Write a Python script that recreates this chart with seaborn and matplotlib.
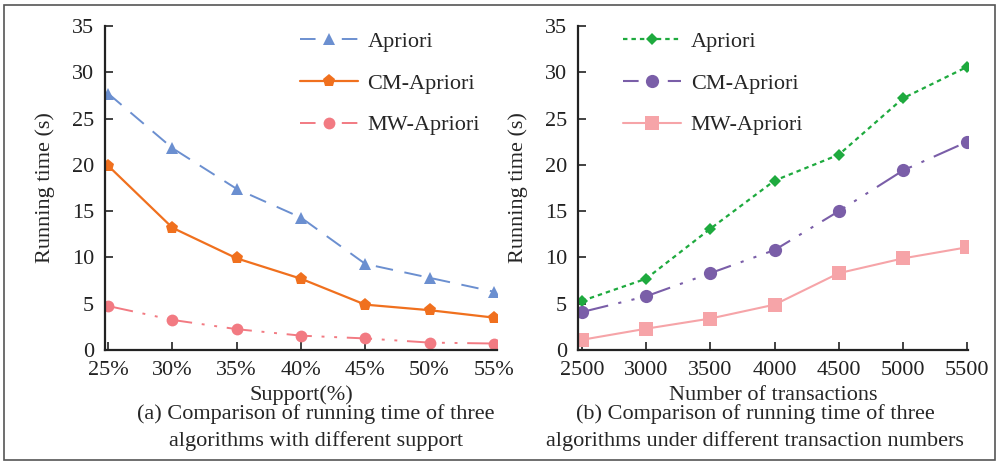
import numpy as np
import pandas as pd
import matplotlib
matplotlib.use('Agg')
import matplotlib.pyplot as plt
import seaborn as sns
from matplotlib.patches import Rectangle

# data (a): running time vs support
support_labels = ['25%', '30%', '35%', '40%', '45%', '50%', '55%']
apriori_a = [27.7, 21.8, 17.4, 14.3, 9.3, 7.8, 6.3]
cm_apriori_a = [19.9, 13.2, 9.9, 7.7, 4.9, 4.3, 3.5]
mw_apriori_a = [4.75, 3.25, 2.25, 1.55, 1.25, 0.8, 0.7]

# data (b): running time vs number of transactions
transactions = [2500, 3000, 3500, 4000, 4500, 5000, 5500]
apriori_b = [5.3, 7.7, 13.1, 18.3, 21.1, 27.2, 30.6]
cm_apriori_b = [4.1, 5.8, 8.3, 10.8, 15.0, 19.4, 22.5]
mw_apriori_b = [1.1, 2.3, 3.4, 4.9, 8.3, 9.9, 11.1]

sns.set_theme(style='ticks')
plt.rcParams['font.family'] = ['Liberation Serif', 'DejaVu Serif']
plt.rcParams['mathtext.fontset'] = 'stix'

W, H = 1001, 463
fig = plt.figure(figsize=(W / 100, H / 100), dpi=100)


def px_axes(x0, y0, x1, y1):
    return fig.add_axes([x0 / W, 1 - y1 / H, (x1 - x0) / W, (y1 - y0) / H])


ax1 = px_axes(105, 26, 497, 350)
ax2 = px_axes(578, 26, 968, 350)

df_a = pd.DataFrame({'pos': np.arange(len(support_labels)),
                     'Apriori': apriori_a, 'CM-Apriori': cm_apriori_a,
                     'MW-Apriori': mw_apriori_a})
df_b = pd.DataFrame({'n': transactions, 'Apriori': apriori_b,
                     'CM-Apriori': cm_apriori_b, 'MW-Apriori': mw_apriori_b})

dashdotdot = (13, 5, 1.5, 5, 1.5, 5)

# (a)
l = sns.lineplot(data=df_a, x='pos', y='Apriori', ax=ax1, color='#6b8fd0',
                 marker='^', markersize=8.5, markeredgewidth=0, lw=1.4,
                 label='Apriori').lines[-1]
l.set_dashes((9, 6))
sns.lineplot(data=df_a, x='pos', y='CM-Apriori', ax=ax1, color='#f0701e',
             marker='p', markersize=9.5, markeredgewidth=0, lw=1.6,
             label='CM-Apriori')
l = sns.lineplot(data=df_a, x='pos', y='MW-Apriori', ax=ax1, color='#f27a82',
                 marker='o', markersize=8.5, markeredgewidth=0, lw=1.4,
                 label='MW-Apriori').lines[-1]
l.set_dashes(dashdotdot)

# (b)
l = sns.lineplot(data=df_b, x='n', y='Apriori', ax=ax2, color='#1eaa3e',
                 marker='D', markersize=6.5, markeredgewidth=0, lw=1.6,
                 label='Apriori').lines[-1]
l.set_dashes((2, 1.8))
l = sns.lineplot(data=df_b, x='n', y='CM-Apriori', ax=ax2, color='#7a5ea8',
                 marker='o', markersize=9.5, markeredgewidth=0, lw=1.5,
                 label='CM-Apriori').lines[-1]
l.set_dashes(dashdotdot)
sns.lineplot(data=df_b, x='n', y='MW-Apriori', ax=ax2, color='#f6a4a8',
             marker='s', markersize=9.5, markeredgewidth=0, lw=1.5,
             label='MW-Apriori')

for ax in (ax1, ax2):
    ax.set_ylim(0, 35)
    ax.set_yticks(range(0, 36, 5))
    ax.tick_params(direction='in', length=6, width=1.2, labelsize=16,
                   colors='#222222')
    ax.tick_params(axis='y', pad=8)
    ax.tick_params(axis='x', pad=8)
    for s in ('top', 'right'):
        ax.spines[s].set_visible(False)
    for s in ('left', 'bottom'):
        ax.spines[s].set_linewidth(1.6)
        ax.spines[s].set_color('#222222')
    ax.set_ylabel('Running time (s)', fontsize=16, labelpad=12)
    ax.set_facecolor('white')

leg_kw = dict(loc='upper left', frameon=False, fontsize=16, handlelength=2.6,
              handletextpad=0.45, labelspacing=0.95)

ax1.set_xlim(-0.05, 6.05)
ax1.set_xticks(df_a['pos'])
ax1.set_xticklabels(support_labels)
ax1.set_xlabel('Support(%)', fontsize=16, labelpad=4)
leg1 = ax1.legend(bbox_to_anchor=(0.446, 1.045), **leg_kw)

ax2.set_xlim(2470, 5505)
ax2.set_xticks(transactions)
ax2.set_xlabel('Number of transactions', fontsize=16, labelpad=4)
leg2 = ax2.legend(bbox_to_anchor=(0.064, 1.045), **leg_kw)

# legend handles: short dash - marker - short dash
leg1.get_lines()[0].set_dashes((8, 13.5))
leg1.get_lines()[2].set_dashes((8, 13.5))
leg2.get_lines()[1].set_dashes((7.5, 14))

fig.text(316 / W, 1 - 414 / H, '(a) Comparison of running time of three',
         ha='center', va='center', fontsize=16)
fig.text(316 / W, 1 - 441 / H, 'algorithms with different support',
         ha='center', va='center', fontsize=16)
fig.text(755 / W, 1 - 414 / H, '(b) Comparison of running time of three',
         ha='center', va='center', fontsize=16)
fig.text(755 / W, 1 - 441 / H, 'algorithms under different transaction numbers',
         ha='center', va='center', fontsize=16)

fig.patches.append(Rectangle((4 / W, 1 - 460 / H), 991 / W, 455 / H,
                             transform=fig.transFigure, fill=False,
                             edgecolor='#555555', lw=1.2))

fig.savefig('out.png', dpi=100, facecolor='white')
